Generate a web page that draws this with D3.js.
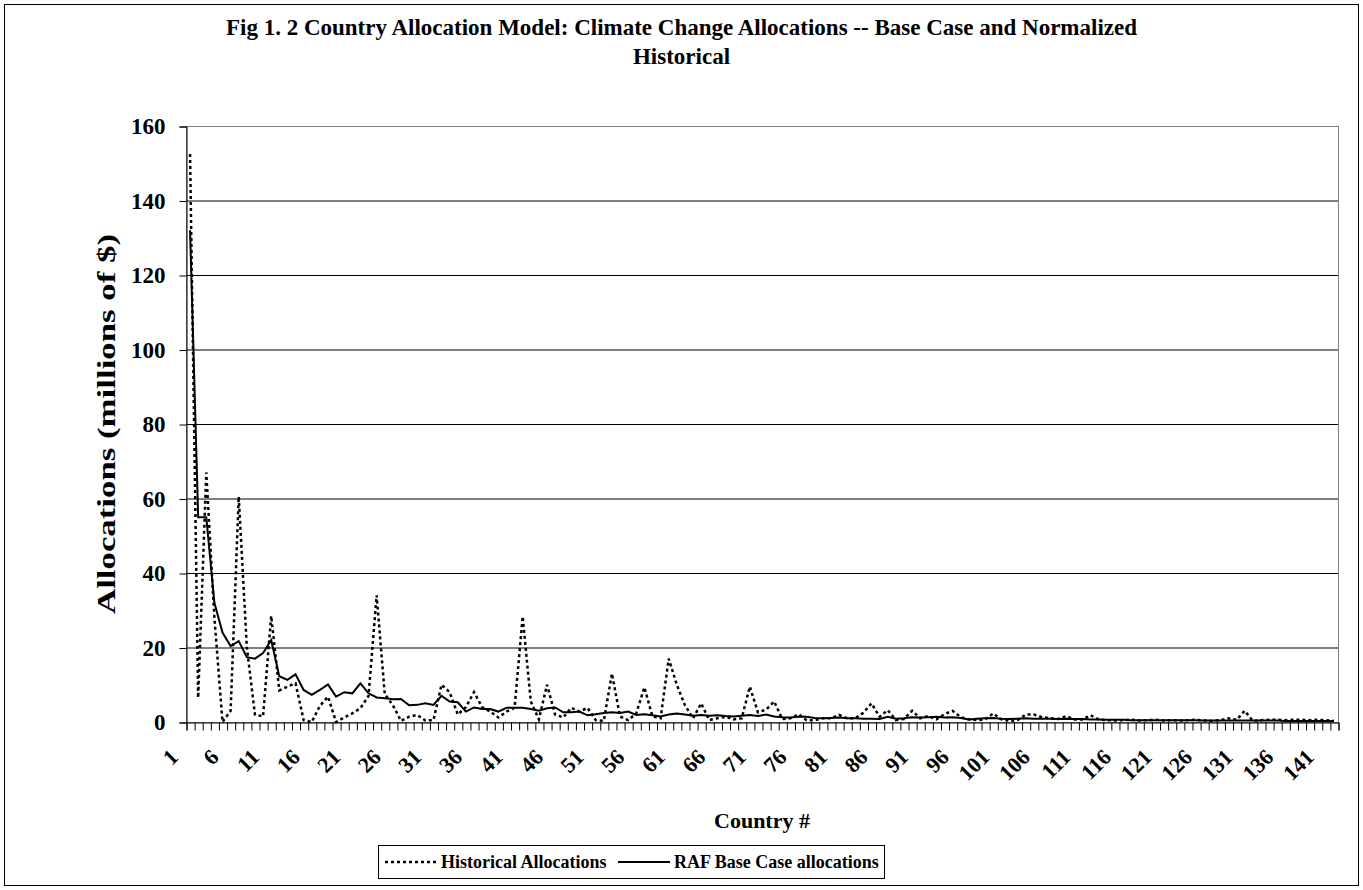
<!DOCTYPE html>
<html>
<head>
<meta charset="utf-8">
<script src="https://cdn.jsdelivr.net/npm/d3@7"></script>
<style>
  body { margin: 0; background: #fff; }
  svg { display: block; font-family: "Liberation Serif", "Times New Roman", serif; font-weight: bold; }
</style>
</head>
<body>
<svg id="chart" width="1363" height="890"></svg>
<script>
// chart data
const countries = d3.range(1, 143)
const xTickLabels = [1, 6, 11, 16, 21, 26, 31, 36, 41, 46, 51, 56, 61, 66, 71, 76, 81, 86, 91, 96, 101, 106, 111, 116, 121, 126, 131, 136, 141]
const yTicks = [0, 20, 40, 60, 80, 100, 120, 140, 160]

const historical = [
    152.5, 6.5, 67, 28, 0, 3, 60.5, 20, 2, 1.5,
    28.5, 8.5, 9.5, 10.4, 0.5, 0, 4.3, 6.8, 0, 1.2,
    2.3, 3.7, 7, 34, 7.5, 4.5, 0.3, 1.4, 1.9, 0.4,
    0.5, 10, 8, 2, 4, 8, 4, 2.8, 1.2, 2.8,
    3.8, 28.3, 5.5, 0.7, 10, 2, 1.2, 3.8, 2.8, 3.8,
    0.5, 0.3, 13, 1.5, 0.5, 2.3, 9.3, 1.5, 1, 17,
    10, 4.5, 1, 5, 0.5, 1, 1.4, 0.7, 1, 9.5,
    2.6, 3.3, 5.5, 0.8, 1, 2.1, 0.5, 0.5, 1, 1,
    1.9, 1, 1, 2.5, 5, 1.4, 3.2, 0.5, 0.8, 3,
    1, 1.6, 0.7, 2.1, 3, 1.3, 0.7, 0.5, 0.7, 2.3,
    0.7, 0.3, 0.5, 2, 2, 1.3, 1, 0.8, 1.6, 0.7,
    0.7, 1.8, 0.7, 0.5, 0.4, 0.5, 0.6, 0.4, 0.5, 0.6,
    0.4, 0.5, 0.4, 0.5, 0.6, 0.4, 0.3, 0.5, 1, 0.6,
    3, 0.3, 0.5, 0.6, 0.6, 0.5, 0.6, 0.6, 0.5, 0.6,
    0.5, 0.3
]

const baseCase = [
    132, 55, 55, 32, 24, 20.4, 21.7, 17.4, 17, 18.5,
    22, 12.3, 11.3, 12.8, 8.6, 7.3, 8.6, 10.1, 6.8, 8,
    7.7, 10.4, 7.7, 6.6, 6.4, 6.1, 6.2, 4.5, 4.6, 5.0,
    4.6, 7.0, 5.5, 5.3, 2.8, 3.9, 3.5, 3.5, 2.8, 3.8,
    3.8, 3.8, 3.5, 3.0, 3.7, 3.9, 2.6, 2.6, 2.8, 1.8,
    2.1, 2.4, 2.6, 2.4, 2.8, 1.9, 2.1, 1.8, 1.5, 2.0,
    2.3, 2.0, 1.7, 1.9, 1.7, 1.8, 1.6, 1.5, 1.7, 1.9,
    1.6, 2.0, 1.5, 1.3, 1.2, 1.4, 1.4, 1.1, 1.0, 1.1,
    1.2, 1.0, 1.0, 0.9, 0.9, 0.8, 1.4, 0.9, 1.0, 1.3,
    1.2, 1.3, 1.4, 1.2, 1.3, 1.1, 0.7, 0.9, 1.0, 1.1,
    0.9, 0.8, 0.9, 1.0, 0.9, 0.9, 0.9, 0.8, 0.9, 0.8,
    0.8, 0.7, 0.7, 0.6, 0.6, 0.6, 0.5, 0.5, 0.5, 0.5,
    0.5, 0.5, 0.5, 0.5, 0.5, 0.4, 0.4, 0.4, 0.4, 0.4,
    0.4, 0.4, 0.4, 0.4, 0.4, 0.3, 0.3, 0.3, 0.3, 0.3,
    0.3, 0.3
]

const titleLines = ['Fig 1. 2 Country Allocation Model: Climate Change Allocations -- Base Case and Normalized', 'Historical']
const seriesNames = ['Historical Allocations', 'RAF Base Case allocations']

// setting up container
    const width = 1363
    const height = 890
    const plot = {left: 186, top: 126, right: 1338, bottom: 722}
    const fontFamily = '"Liberation Serif", "Times New Roman", serif'
    const svg = d3.select('#chart')

    svg.append('rect')
        .attr('x', 4.5).attr('y', 4.5)
        .attr('width', width - 9).attr('height', height - 9)
        .attr('fill', 'white')
        .attr('stroke', 'black')
        .attr('stroke-width', 1)

// set up scales
    const xScale = d3.scaleBand()
        .domain(countries)
        .range([plot.left, plot.right])
        .padding(0)
    const xEdges = d3.scaleLinear()
        .domain([0, countries.length])
        .range([plot.left, plot.right])
    const yScale = d3.scaleLinear()
        .domain([0, 160])
        .range([plot.bottom, plot.top])
    const xMid = d => xScale(d) + xScale.bandwidth() / 2

// title
    svg.append('g')
        .selectAll('text')
        .data(titleLines)
        .enter()
        .append('text')
            .attr('x', width / 2)
            .attr('y', (d, i) => 35 + i * 29)
            .attr('text-anchor', 'middle')
            .style('font-size', '23px')
            .text(d => d)

// draw grid lines
    svg.append('g')
        .selectAll('line')
        .data(yTicks.slice(1))
        .enter()
        .append('line')
            .attr('x1', plot.left).attr('x2', plot.right)
            .attr('y1', d => yScale(d) + 0.5).attr('y2', d => yScale(d) + 0.5)
            .attr('stroke', 'black')
            .attr('stroke-width', 1)

    svg.append('rect')
        .attr('x', plot.left + 0.5).attr('y', plot.top + 0.5)
        .attr('width', plot.right - plot.left).attr('height', plot.bottom - plot.top)
        .attr('fill', 'none')
        .attr('stroke', '#808080')
        .attr('stroke-width', 1)

// set up axes
    const yAxis = d3.axisLeft(yScale)
        .tickValues(yTicks)
        .tickSize(7)
        .tickPadding(14)
    svg.append('g')
        .attr('transform', `translate(${plot.left + 0.5}, 0.5)`)
        .call(yAxis)
        .call(g => g.selectAll('text')
            .style('font-size', '23px')
            .style('font-family', fontFamily)
            .style('font-weight', 'bold')
            .attr('fill', 'black'))

    // tick marks sit between the categories
    const xTickMarks = d3.axisBottom(xEdges)
        .tickValues(d3.range(0, countries.length + 1))
        .tickSize(8)
        .tickFormat('')
    svg.append('g')
        .attr('transform', `translate(0.5, ${plot.bottom + 0.5})`)
        .call(xTickMarks)

    const xAxis = d3.axisBottom(xScale)
        .tickValues(xTickLabels)
        .tickSize(0)
    svg.append('g')
        .attr('transform', `translate(0, ${plot.bottom})`)
        .call(xAxis)
        .call(g => g.select('.domain').remove())
        .selectAll('text')
            .attr('y', 0)
            .attr('dy', '0.35em')
            .attr('transform', 'translate(-16, 31) rotate(-45)')
            .style('text-anchor', 'end')
            .style('font-size', '22px')
            .style('font-family', fontFamily)
            .style('font-weight', 'bold')
            .attr('fill', 'black')

// axis titles
    svg.append('text')
        .attr('transform', `translate(106, ${(plot.top + plot.bottom) / 2}) rotate(-90)`)
        .attr('text-anchor', 'middle')
        .attr('dy', '0.35em')
        .attr('textLength', 380)
        .attr('lengthAdjust', 'spacingAndGlyphs')
        .style('font-size', '26px')
        .text('Allocations (millions of $)')
    svg.append('text')
        .attr('x', (plot.left + plot.right) / 2)
        .attr('y', 828)
        .attr('text-anchor', 'middle')
        .style('font-size', '22px')
        .text('Country #')

// draw the two series
    const line = d3.line()
        .x((d, i) => xMid(countries[i]))
        .y(d => yScale(d))

    svg.append('path')
        .datum(historical)
        .attr('d', line)
        .attr('fill', 'none')
        .attr('stroke', 'black')
        .attr('stroke-width', 2.5)
        .attr('stroke-dasharray', '3,3')

    svg.append('path')
        .datum(baseCase)
        .attr('d', line)
        .attr('fill', 'none')
        .attr('stroke', 'black')
        .attr('stroke-width', 2)

// legend
    const legend = svg.append('g')
    legend.append('rect')
        .attr('x', 378.5).attr('y', 845.5)
        .attr('width', 506).attr('height', 33)
        .attr('fill', 'white')
        .attr('stroke', 'black')
    const legendItems = [
        {name: seriesNames[0], x: 385, dash: '3,3', w: 2.5},
        {name: seriesNames[1], x: 618, dash: null, w: 2}
    ]
    legendItems.forEach(item => {
        legend.append('line')
            .attr('x1', item.x).attr('x2', item.x + 52)
            .attr('y1', 862).attr('y2', 862)
            .attr('stroke', 'black')
            .attr('stroke-width', item.w)
            .attr('stroke-dasharray', item.dash)
        legend.append('text')
            .attr('x', item.x + 56)
            .attr('y', 868)
            .style('font-size', '18px')
            .text(item.name)
    })
</script>
</body>
</html>
